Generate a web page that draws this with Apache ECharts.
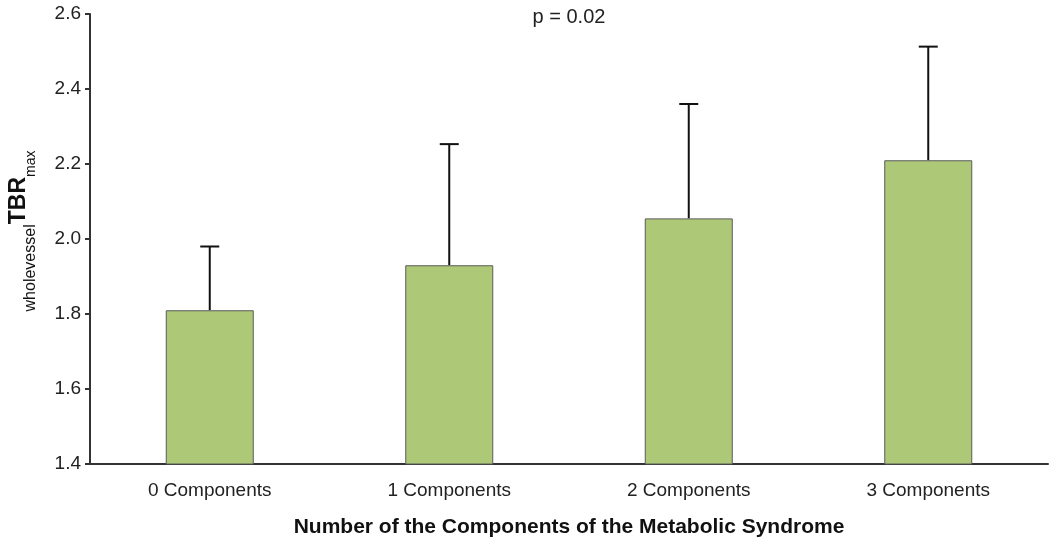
<!DOCTYPE html>
<html>
<head>
<meta charset="utf-8">
<script src="https://cdn.jsdelivr.net/npm/echarts@6/dist/echarts.min.js"></script>
<style>
  html, body { margin: 0; padding: 0; background: #fff; }
  #chart { width: 1050px; height: 543px; }
</style>
</head>
<body>
<div id="chart"></div>
<script>
// values
var categories = ['0 Components', '1 Components', '2 Components', '3 Components'];
var means = [1.81, 1.93, 2.055, 2.21];
var upperErr = [1.98, 2.253, 2.36, 2.513];   // mean + SD
var yTicks = [1.4, 1.6, 1.8, 2.0, 2.2, 2.4, 2.6];

var font = 'Liberation Sans, Arial, Helvetica, sans-serif';

var errData = categories.map(function(c, i) {
    return [i, means[i], upperErr[i]];
});

var option = {
    backgroundColor: '#fff',
    animation: false,
    grid: {
        left: 90,
        right: 2,
        top: 14,
        bottom: 79,
        outerBoundsMode: 'none'
    },
    xAxis: {
        type: 'category',
        data: categories,
        name: 'Number of the Components of the Metabolic Syndrome',
        nameLocation: 'middle',
        nameGap: 53,
        nameTextStyle: {
            fontFamily: font,
            fontSize: 21,
            fontWeight: 'bold',
            color: '#111'
        },
        axisLine: { lineStyle: { color: '#333', width: 2 } },
        axisTick: { show: false },
        axisLabel: {
            fontFamily: font,
            fontSize: 19,
            color: '#222',
            margin: 17
        }
    },
    yAxis: {
        type: 'value',
        min: yTicks[0],
        max: yTicks[yTicks.length - 1],
        interval: 0.2,
        splitLine: { show: false },
        axisLine: { show: true, lineStyle: { color: '#333', width: 2 } },
        axisTick: { show: true, length: 5, lineStyle: { color: '#333', width: 2 } },
        axisLabel: {
            fontFamily: font,
            fontSize: 19,
            color: '#222',
            margin: 9,
            formatter: function(v) { return v.toFixed(1); }
        }
    },
    graphic: [{
        type: 'text',
        x: 569,
        y: 17,
        style: {
            text: 'p = 0.02',
            font: '20px ' + font,
            fill: '#222',
            align: 'center',
            verticalAlign: 'middle'
        }
    }, {
        type: 'text',
        x: 23,
        y: 231,
        rotation: Math.PI / 2,
        style: {
            text: '{s|wholevessel}{b|TBR}{m|max}',
            align: 'center',
            verticalAlign: 'middle',
            fill: '#111',
            rich: {
                s: { fontFamily: font, fontSize: 16, fill: '#111', verticalAlign: 'bottom' },
                b: { fontFamily: font, fontSize: 23, fontWeight: 'bold', fill: '#111', padding: [0, 0, 8, 0], verticalAlign: 'bottom' },
                m: { fontFamily: font, fontSize: 14, fill: '#111', verticalAlign: 'bottom' }
            }
        }
    }],
    series: [{
        type: 'custom',
        z: 1,
        data: errData,
        renderItem: function(params, api) {
            var base = api.coord([api.value(0), api.value(1)]);
            var top = api.coord([api.value(0), api.value(2)]);
            return {
                type: 'group',
                children: [{
                    type: 'line',
                    shape: { x1: base[0], y1: base[1], x2: top[0], y2: top[1] },
                    style: { stroke: '#111', lineWidth: 2 }
                }, {
                    type: 'line',
                    shape: { x1: top[0] - 9.5, y1: top[1], x2: top[0] + 9.5, y2: top[1] },
                    style: { stroke: '#111', lineWidth: 2 }
                }]
            };
        }
    }, {
        type: 'bar',
        z: 2,
        data: means,
        barWidth: 88,
        itemStyle: {
            color: '#adc978',
            borderColor: '#5a5a5a',
            borderWidth: 1
        }
    }]
};

var myChart = echarts.init(document.getElementById('chart'));
myChart.setOption(option);
</script>
</body>
</html>
